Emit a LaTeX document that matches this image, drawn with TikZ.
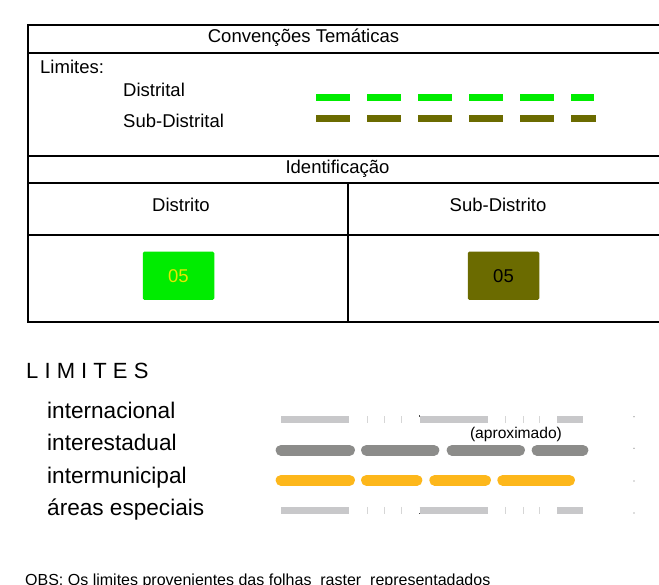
\documentclass[tikz,border=0pt]{standalone}
\usepackage{fontspec}
\setmainfont{Liberation Sans}
\usetikzlibrary{positioning}
\definecolor{distgreen}{RGB}{0,236,0}
\definecolor{subolive}{RGB}{107,107,0}
\definecolor{numyellow}{RGB}{228,232,0}
\definecolor{lightgrey}{RGB}{200,200,202}
\definecolor{tickgrey}{RGB}{214,214,214}
\definecolor{stategrey}{RGB}{140,140,138}
\definecolor{munorange}{RGB}{253,183,27}

\begin{document}
\begin{tikzpicture}[x=1pt,y=-1pt,
  rule/.style={line width=1.6pt},
  lbl/.style={font=\fontsize{18.5}{20}\selectfont,inner sep=0pt,anchor=base},
  big/.style={font=\fontsize{22.6}{24}\selectfont,inner sep=0pt,anchor=base west},
  idbox/.style={rounded corners=1.5pt,minimum width=71.5pt,minimum height=48.3pt,inner sep=0pt,font=\fontsize{18.5}{20}\selectfont},
  distline/.style={line width=7pt,dash pattern=on 34pt off 17pt},
  fatline/.style={line width=10.7pt,line cap=round}]
\useasboundingbox (0,0) rectangle (659,585);
\clip (0,0) rectangle (659,585);
\fill[white] (0,0) rectangle (659,585);
% table frame
\draw[rule] (670,25) -- (28,25) -- (28,322) -- (670,322);
\foreach \y in {53,156,183,235} \draw[rule] (28,\y) -- (670,\y);
\draw[line width=1.2pt] (348,183) -- (348,322);
% table texts
\node[lbl] (title) at (303.5,43) {Convenções Temáticas};
\node[lbl,anchor=base west] (limites) at (40,74) {Limites:};
\node[lbl,anchor=base west] (distrital) at (123,97) {Distrital};
\node[lbl,anchor=base west] (subdistrital) at (123,127.5) {Sub-Distrital};
\node[lbl] (ident) at (337.5,174) {Identificação};
\node[lbl] (distrito) at (181,211.5) {Distrito};
\node[lbl] (subdistrito) at (498,211.5) {Sub-Distrito};
\draw[distgreen,distline] (316,98) -- (594,98);
\draw[subolive,distline] (316,118.7) -- (596,118.7);
\node[idbox,fill=distgreen,text=numyellow] (gbox) at (178.5,275.8) {05};
\node[idbox,fill=subolive,text=black] (obox) at (503.5,275.8) {05};
% limites
\node[big,font=\fontsize{22}{24}\selectfont] (lim) at (26,379) {L I M I T E S};
\node[big] (intl) at (47,418) {internacional};
\node[big] (inte) at (47,450) {interestadual};
\node[big] (intm) at (47,483) {intermunicipal};
\node[big] (esp) at (47,515) {áreas especiais};
\node[font=\fontsize{15.6}{17}\selectfont,inner sep=0pt] (aprox) at (516,434) {(aproximado)};
\foreach \y/\m in {419.5/415.9,510.3/513.6}{
  \foreach \a/\b in {281/349,419.5/487.5,557/583} \draw[lightgrey,line width=7.5pt] (\a,\y) -- (\b,\y);
  \foreach \x in {367,384.5,401.5,505,523,539.5} \draw[tickgrey,line width=1pt] (\x,\y-3.5) -- (\x,\y+3.5);
  \fill[black!70] (418.8,\m-0.6) rectangle (420,\m+0.6);
}
\foreach \a/\b in {281/349.6,366.4/434,452/519.6,537/583} \draw[stategrey,fatline] (\a,450.3) -- (\b,450.3);
\foreach \a/\b in {281/349.6,366.4/417,434.7/485.6,502.7/569.6} \draw[munorange,fatline] (\a,480.3) -- (\b,480.3);
\foreach \y in {416.7,448.3,481,513} \fill[black!55] (634,\y) circle (0.6pt);
% note, cut by the page edge
\node[font=\fontsize{16}{18}\selectfont,inner sep=0pt,anchor=base west] (obs) at (25,585.5) {OBS: Os limites provenientes das folhas\ \ raster\ \ representadados};
\end{tikzpicture}
\end{document}
